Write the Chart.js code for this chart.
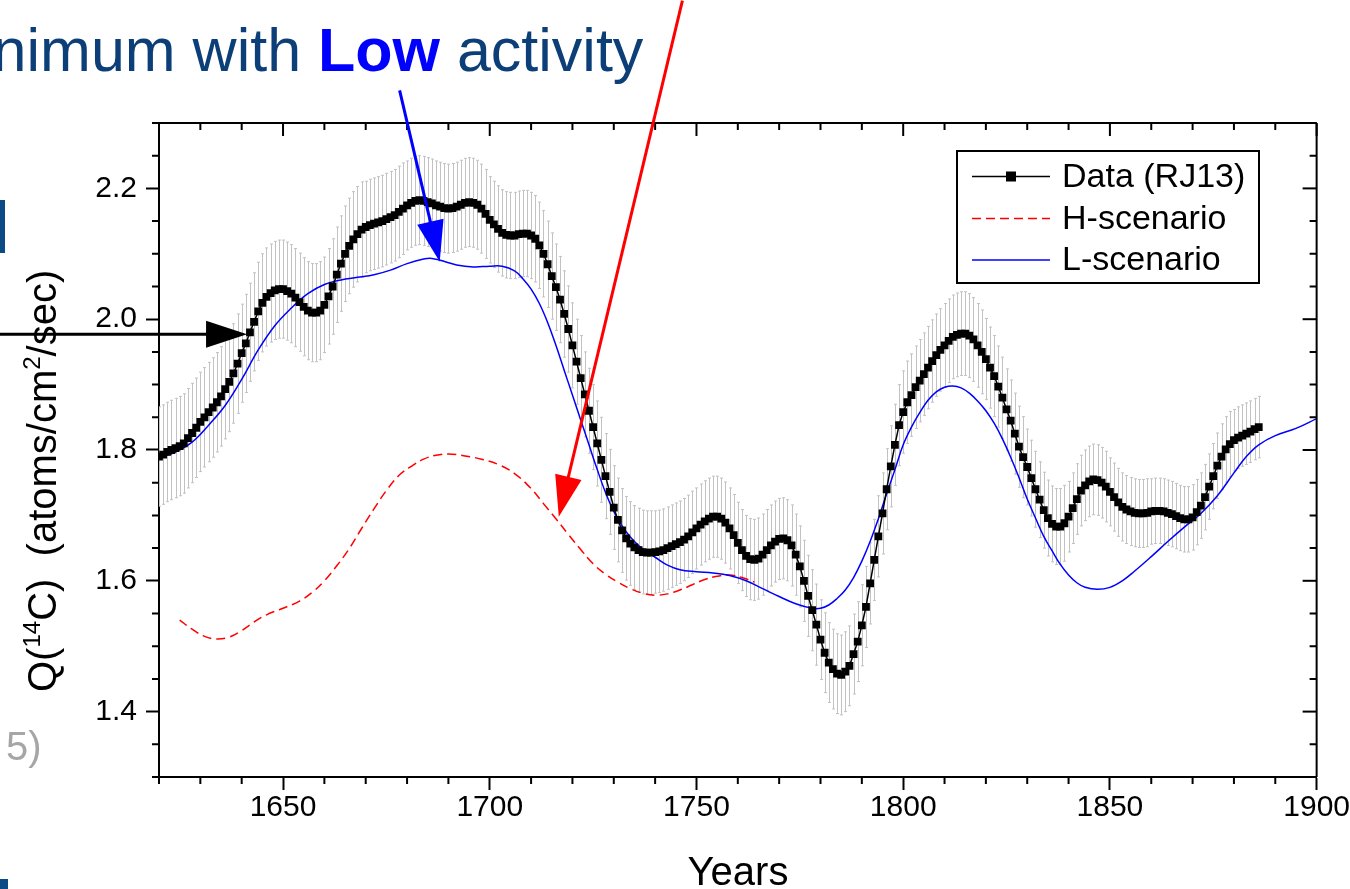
<!DOCTYPE html>
<html>
<head>
<meta charset="utf-8">
<title>Q(14C) production rate</title>
<script src="https://cdn.jsdelivr.net/npm/chart.js@4.4.1/dist/chart.umd.min.js"></script>
<style>
  html, body { margin: 0; padding: 0; background: #fff; overflow: hidden; }
  canvas { display: block; }
</style>
</head>
<body>
<canvas id="q14Chart" width="1350" height="889"></canvas>
<script>
// Data (RJ13): one value per year, starting at 1620
const dataStartYear = 1620;
const dataValues = [
  1.790, 1.793, 1.797, 1.800, 1.803, 1.806, 1.810, 1.818, 1.826, 1.834,
  1.843, 1.850, 1.858, 1.865, 1.873, 1.882, 1.893, 1.904, 1.917, 1.932,
  1.948, 1.963, 1.980, 1.996, 2.012, 2.025, 2.034, 2.040, 2.044, 2.046,
  2.046, 2.043, 2.039, 2.033, 2.026, 2.019, 2.013, 2.010, 2.010, 2.013,
  2.022, 2.035, 2.050, 2.068, 2.085, 2.100, 2.112, 2.122, 2.130, 2.137,
  2.141, 2.144, 2.146, 2.148, 2.150, 2.153, 2.156, 2.159, 2.164, 2.169,
  2.174, 2.178, 2.181, 2.182, 2.181, 2.179, 2.177, 2.174, 2.172, 2.170,
  2.169, 2.170, 2.172, 2.175, 2.178, 2.179, 2.178, 2.175, 2.169, 2.161,
  2.152, 2.145, 2.138, 2.132, 2.129, 2.128, 2.128, 2.130, 2.131, 2.131,
  2.128, 2.123, 2.113, 2.100, 2.084, 2.066, 2.049, 2.030, 2.008, 1.985,
  1.960, 1.935, 1.910, 1.885, 1.860, 1.835, 1.810, 1.785, 1.760, 1.736,
  1.712, 1.693, 1.677, 1.665, 1.657, 1.651, 1.647, 1.644, 1.643, 1.643,
  1.644, 1.645, 1.647, 1.650, 1.653, 1.656, 1.659, 1.663, 1.668, 1.674,
  1.680, 1.686, 1.691, 1.695, 1.698, 1.698, 1.695, 1.689, 1.680, 1.670,
  1.658, 1.647, 1.638, 1.633, 1.632, 1.634, 1.640, 1.647, 1.654, 1.660,
  1.664, 1.665, 1.662, 1.654, 1.640, 1.622, 1.600, 1.577, 1.555, 1.533,
  1.510, 1.490, 1.475, 1.465, 1.458, 1.456, 1.461, 1.470, 1.488, 1.507,
  1.532, 1.560, 1.596, 1.632, 1.668, 1.703, 1.740, 1.775, 1.808, 1.838,
  1.858, 1.873, 1.884, 1.896, 1.906, 1.916, 1.926, 1.936, 1.945, 1.953,
  1.960, 1.967, 1.973, 1.976, 1.978, 1.978, 1.975, 1.969, 1.960, 1.950,
  1.939, 1.926, 1.913, 1.897, 1.880, 1.862, 1.845, 1.825, 1.805, 1.789,
  1.774, 1.757, 1.740, 1.724, 1.708, 1.696, 1.687, 1.683, 1.683, 1.688,
  1.698, 1.711, 1.725, 1.738, 1.746, 1.752, 1.755, 1.754, 1.750, 1.744,
  1.736, 1.728, 1.720, 1.713, 1.709, 1.706, 1.704, 1.703, 1.703, 1.704,
  1.706, 1.707, 1.707, 1.706, 1.704, 1.702, 1.699, 1.696, 1.694, 1.694,
  1.697, 1.705, 1.715, 1.728, 1.744, 1.760, 1.776, 1.790, 1.801, 1.809,
  1.815, 1.819, 1.822, 1.825, 1.828, 1.832, 1.835
];

// error bar half-widths, one per decade (1620s, 1630s, ...)
const errorDecadeStart = 1620;
const errorHalfWidths = [
  0.076, 0.076, 0.075, 0.075, 0.073, 0.070, 0.068, 0.068, 0.066, 0.066,
  0.065, 0.064, 0.063, 0.062, 0.062, 0.062, 0.061, 0.062, 0.063, 0.064,
  0.062, 0.058, 0.054, 0.052, 0.050, 0.050, 0.047
];

// L-scenario
const lYears = [1620, 1624, 1628, 1632, 1636, 1640, 1644, 1648, 1652, 1656,
  1660, 1664, 1668, 1672, 1676, 1680, 1684, 1686, 1688, 1692,
  1696, 1700, 1703, 1706, 1708, 1710, 1712, 1714, 1716, 1718,
  1720, 1722, 1724, 1726, 1728, 1730, 1732, 1734, 1736, 1738,
  1740, 1743, 1746, 1750, 1754, 1758, 1762, 1766, 1770, 1774,
  1778, 1780, 1782, 1784, 1786, 1788, 1790, 1792, 1794, 1796,
  1798, 1800, 1802, 1804, 1806, 1808, 1810, 1812, 1814, 1816,
  1818, 1820, 1822, 1824, 1826, 1828, 1830, 1832, 1834, 1836,
  1838, 1840, 1842, 1844, 1847, 1850, 1853, 1856, 1860, 1864,
  1868, 1872, 1876, 1880, 1883, 1886, 1890, 1895, 1900];
const lValues = [1.788, 1.797, 1.812, 1.838, 1.868, 1.908, 1.953, 1.990, 2.017, 2.039,
  2.053, 2.060, 2.064, 2.068, 2.075, 2.085, 2.092, 2.093, 2.090, 2.083,
  2.080, 2.081, 2.081, 2.074, 2.062, 2.046, 2.024, 1.995, 1.960, 1.922,
  1.884, 1.846, 1.808, 1.770, 1.735, 1.706, 1.684, 1.667, 1.654, 1.644,
  1.636, 1.624, 1.617, 1.614, 1.612, 1.608, 1.600, 1.588, 1.576, 1.565,
  1.558, 1.558, 1.563, 1.573, 1.586, 1.605, 1.630, 1.660, 1.695, 1.733,
  1.770, 1.808, 1.835, 1.857, 1.876, 1.889, 1.896, 1.898, 1.895, 1.887,
  1.875, 1.860, 1.841, 1.817, 1.789, 1.758, 1.725, 1.696, 1.668, 1.646,
  1.625, 1.609, 1.597, 1.590, 1.587, 1.590, 1.600, 1.615, 1.637, 1.660,
  1.682, 1.703, 1.730, 1.765, 1.790, 1.808, 1.822, 1.833, 1.848];

// H-scenario
const hYears = [1625, 1628, 1631, 1634, 1637, 1640, 1643, 1646, 1650, 1654,
  1657, 1660, 1663, 1666, 1669, 1672, 1675, 1678, 1681, 1684,
  1687, 1690, 1694, 1698, 1702, 1706, 1710, 1713, 1716, 1719,
  1722, 1725, 1728, 1731, 1734, 1737, 1740, 1743, 1746, 1749,
  1752, 1755, 1758, 1761, 1764];
const hValues = [1.540, 1.526, 1.515, 1.511, 1.514, 1.524, 1.537, 1.548, 1.558, 1.569,
  1.582, 1.600, 1.623, 1.649, 1.680, 1.710, 1.738, 1.761, 1.775, 1.786,
  1.792, 1.794, 1.791, 1.786, 1.778, 1.764, 1.741, 1.718, 1.695, 1.671,
  1.648, 1.626, 1.610, 1.598, 1.588, 1.581, 1.578, 1.580, 1.586, 1.594,
  1.602, 1.607, 1.609, 1.605, 1.598];

const seriesNames = ['Data (RJ13)', 'H-scenario', 'L-scenario'];

// axes
const xMin = 1620, xMax = 1900, xMinorStep = 10;
const xTickValues = [1650, 1700, 1750, 1800, 1850, 1900];
const yMin = 1.3, yMax = 2.3, yMinorStep = 0.05;
const yTickValues = [1.4, 1.6, 1.8, 2.0, 2.2];

// slide annotations: arrows given in data coordinates (year, value)
const arrowNotes = [
  { color: '#000000', from: [1581, 1.977], to: [1641.3, 1.977] },
  { color: '#0000ff', from: [1678.2, 2.350], to: [1687.9, 2.088] },
  { color: '#ff0000', from: [1746.6, 2.487], to: [1716.7, 1.698] }
];

const FONT = '"Liberation Sans", Arial, Helvetica, sans-serif';
Chart.defaults.font.family = FONT;

const dataPoints = dataValues.map((v, i) => ({ x: dataStartYear + i, y: v }));
const lPoints = lYears.map((yr, i) => ({ x: yr, y: lValues[i] }));
const hPoints = hYears.map((yr, i) => ({ x: yr, y: hValues[i] }));

function errorFor(year) {
  return errorHalfWidths[Math.floor((year - errorDecadeStart) / 10)];
}

// gray error bars behind the data
const errorBarPlugin = {
  id: 'errorBars',
  beforeDatasetsDraw(chart) {
    const { ctx, scales: { x, y }, chartArea } = chart;
    ctx.save();
    ctx.beginPath();
    ctx.rect(chartArea.left, chartArea.top, chartArea.width, chartArea.height);
    ctx.clip();
    ctx.strokeStyle = '#c2c2c2';
    ctx.lineWidth = 1;
    dataPoints.forEach(p => {
      const e = errorFor(p.x);
      const px = Math.round(x.getPixelForValue(p.x)) + 0.5;
      const top = y.getPixelForValue(p.y + e);
      const bot = y.getPixelForValue(p.y - e);
      ctx.beginPath();
      ctx.moveTo(px, top); ctx.lineTo(px, bot);
      ctx.moveTo(px - 1.5, top); ctx.lineTo(px + 1.5, top);
      ctx.moveTo(px - 1.5, bot); ctx.lineTo(px + 1.5, bot);
      ctx.stroke();
    });
    ctx.restore();
  }
};

// frame, minor ticks, inward ticks on top/right
const framePlugin = {
  id: 'frame',
  afterDraw(chart) {
    const { ctx, scales: { x, y }, chartArea: a } = chart;
    ctx.save();
    ctx.strokeStyle = '#000';
    ctx.lineWidth = 2;
    ctx.beginPath();
    ctx.moveTo(a.left, a.top); ctx.lineTo(a.right, a.top);
    ctx.moveTo(a.right, a.top); ctx.lineTo(a.right, a.bottom);
    ctx.stroke();
    const nx = Math.round((xMax - xMin) / xMinorStep);
    for (let k = 0; k <= nx; k++) {
      const v = xMin + k * xMinorStep;
      const major = xTickValues.includes(v);
      const px = x.getPixelForValue(v);
      ctx.beginPath();
      ctx.moveTo(px, a.top); ctx.lineTo(px, a.top + (major ? 13 : 7));
      if (!major) { ctx.moveTo(px, a.bottom); ctx.lineTo(px, a.bottom + 7); }
      ctx.stroke();
    }
    const ny = Math.round((yMax - yMin) / yMinorStep);
    for (let k = 0; k <= ny; k++) {
      const v = +(yMin + k * yMinorStep).toFixed(2);
      const major = yTickValues.some(t => Math.abs(t - v) < 1e-6);
      const py = y.getPixelForValue(v);
      ctx.beginPath();
      ctx.moveTo(a.right, py); ctx.lineTo(a.right - (major ? 14 : 7), py);
      if (!major) { ctx.moveTo(a.left, py); ctx.lineTo(a.left - 7, py); }
      ctx.stroke();
    }
    ctx.restore();
  }
};

// legend box inside the plot
const legendPlugin = {
  id: 'boxLegend',
  afterDraw(chart) {
    const { ctx } = chart;
    const box = { left: 957, top: 151, width: 302, height: 132 };
    ctx.save();
    ctx.fillStyle = '#fff';
    ctx.fillRect(box.left, box.top, box.width, box.height);
    ctx.strokeStyle = '#000';
    ctx.lineWidth = 2;
    ctx.strokeRect(box.left, box.top, box.width, box.height);
    const rows = [176.5, 218.5, 260];
    chart.data.datasets.forEach((ds, i) => {
      const yy = rows[i];
      ctx.strokeStyle = ds.borderColor;
      ctx.lineWidth = 1.5;
      ctx.setLineDash(ds.borderDash || []);
      ctx.beginPath();
      ctx.moveTo(972, yy); ctx.lineTo(1050, yy);
      ctx.stroke();
      ctx.setLineDash([]);
      if (ds.pointRadius > 0) {
        ctx.fillStyle = ds.pointBackgroundColor;
        ctx.fillRect(1011 - 5, yy - 5, 10, 10);
      }
      ctx.fillStyle = '#000';
      ctx.font = '34px ' + FONT;
      ctx.textBaseline = 'middle';
      ctx.textAlign = 'left';
      ctx.fillText(ds.label, 1062, yy + 1);
    });
    ctx.restore();
  }
};

// axis titles, slide text and arrows
const textPlugin = {
  id: 'slideText',
  afterDraw(chart) {
    const { ctx, scales: { x, y } } = chart;
    ctx.save();
    ctx.fillStyle = '#000';
    ctx.textBaseline = 'alphabetic';

    // x title
    ctx.font = '40px ' + FONT;
    ctx.textAlign = 'center';
    ctx.fillText('Years', 738, 885);

    // y title with superscripts
    ctx.translate(56, 692);
    ctx.rotate(-Math.PI / 2);
    ctx.textAlign = 'left';
    const parts = [
      { t: 'Q(' }, { t: '14', sup: true }, { t: 'C)  (atoms/cm' },
      { t: '2', sup: true }, { t: '/sec)' }
    ];
    let cx = 0;
    parts.forEach(p => {
      ctx.font = (p.sup ? 24 : 40) + 'px ' + FONT;
      ctx.fillText(p.t, cx, p.sup ? -16 : 0);
      cx += ctx.measureText(p.t).width;
    });
    ctx.setTransform(1, 0, 0, 1, 0, 0);

    // slide heading fragment
    ctx.font = '61px ' + FONT;
    const w1 = ctx.measureText('nimum with ').width;
    const x0 = 318 - w1;
    ctx.fillStyle = '#0c3f77';
    ctx.fillText('nimum with ', x0, 71);
    ctx.font = 'bold 61px ' + FONT;
    const w2 = ctx.measureText('Low').width;
    ctx.fillStyle = '#0000ff';
    ctx.fillText('Low', x0 + w1, 71);
    ctx.font = '61px ' + FONT;
    ctx.fillStyle = '#0c3f77';
    ctx.fillText(' activity', x0 + w1 + w2, 71);

    // cropped slide fragments on the left
    ctx.fillStyle = '#a6a6a6';
    ctx.font = '40px ' + FONT;
    ctx.fillText('5)', 6, 760);
    ctx.fillStyle = '#0c4a85';
    ctx.fillRect(0, 200, 5, 53);
    ctx.fillRect(0, 879, 8, 10);

    // arrows
    arrowNotes.forEach(n => {
      const x1 = x.getPixelForValue(n.from[0]), y1 = y.getPixelForValue(n.from[1]);
      const x2 = x.getPixelForValue(n.to[0]), y2 = y.getPixelForValue(n.to[1]);
      const len = Math.hypot(x2 - x1, y2 - y1);
      const ux = (x2 - x1) / len, uy = (y2 - y1) / len;
      const head = 41, half = 13.5;
      const bx = x2 - ux * head, by = y2 - uy * head;
      ctx.strokeStyle = n.color;
      ctx.fillStyle = n.color;
      ctx.lineWidth = 3;
      ctx.beginPath();
      ctx.moveTo(x1, y1); ctx.lineTo(bx + ux * 2, by + uy * 2);
      ctx.stroke();
      ctx.beginPath();
      ctx.moveTo(x2, y2);
      ctx.lineTo(bx - uy * half, by + ux * half);
      ctx.lineTo(bx + uy * half, by - ux * half);
      ctx.closePath();
      ctx.fill();
    });
    ctx.restore();
  }
};

new Chart(document.getElementById('q14Chart').getContext('2d'), {
  type: 'line',
  data: {
    datasets: [
      {
        label: seriesNames[0],
        data: dataPoints,
        borderColor: '#000000',
        borderWidth: 1.5,
        pointStyle: 'rect',
        pointRadius: 5.5,
        pointBorderWidth: 0,
        pointBackgroundColor: '#000000',
        tension: 0,
        order: 0
      },
      {
        label: seriesNames[1],
        data: hPoints,
        borderColor: '#ff0000',
        borderWidth: 1.5,
        borderDash: [9, 5],
        pointRadius: 0,
        tension: 0.4,
        order: 2
      },
      {
        label: seriesNames[2],
        data: lPoints,
        borderColor: '#0000ff',
        borderWidth: 1.5,
        pointRadius: 0,
        tension: 0.4,
        order: 1
      }
    ]
  },
  options: {
    responsive: false,
    animation: false,
    events: [],
    layout: { padding: { top: 123, right: 33, left: 0, bottom: 0 } },
    plugins: {
      legend: { display: false },
      tooltip: { enabled: false },
      title: { display: false }
    },
    scales: {
      x: {
        type: 'linear',
        min: xMin,
        max: xMax,
        afterBuildTicks: s => { s.ticks = xTickValues.map(v => ({ value: v })); },
        afterFit: s => { s.height = 112; },
        grid: { drawOnChartArea: false, drawTicks: true, tickLength: 13, tickWidth: 2, tickColor: '#000' },
        border: { display: true, color: '#000', width: 2 },
        ticks: {
          color: '#000',
          font: { size: 30 },
          padding: 0,
          maxRotation: 0,
          autoSkip: false,
          callback: v => String(v)
        }
      },
      y: {
        type: 'linear',
        min: yMin,
        max: yMax,
        afterBuildTicks: s => { s.ticks = yTickValues.map(v => ({ value: v })); },
        afterFit: s => { s.width = 159; },
        grid: { drawOnChartArea: false, drawTicks: true, tickLength: 13, tickWidth: 2, tickColor: '#000' },
        border: { display: true, color: '#000', width: 2 },
        ticks: {
          color: '#000',
          font: { size: 30 },
          padding: 9,
          callback: v => v.toFixed(1)
        }
      }
    }
  },
  plugins: [errorBarPlugin, framePlugin, legendPlugin, textPlugin]
});
</script>
</body>
</html>
